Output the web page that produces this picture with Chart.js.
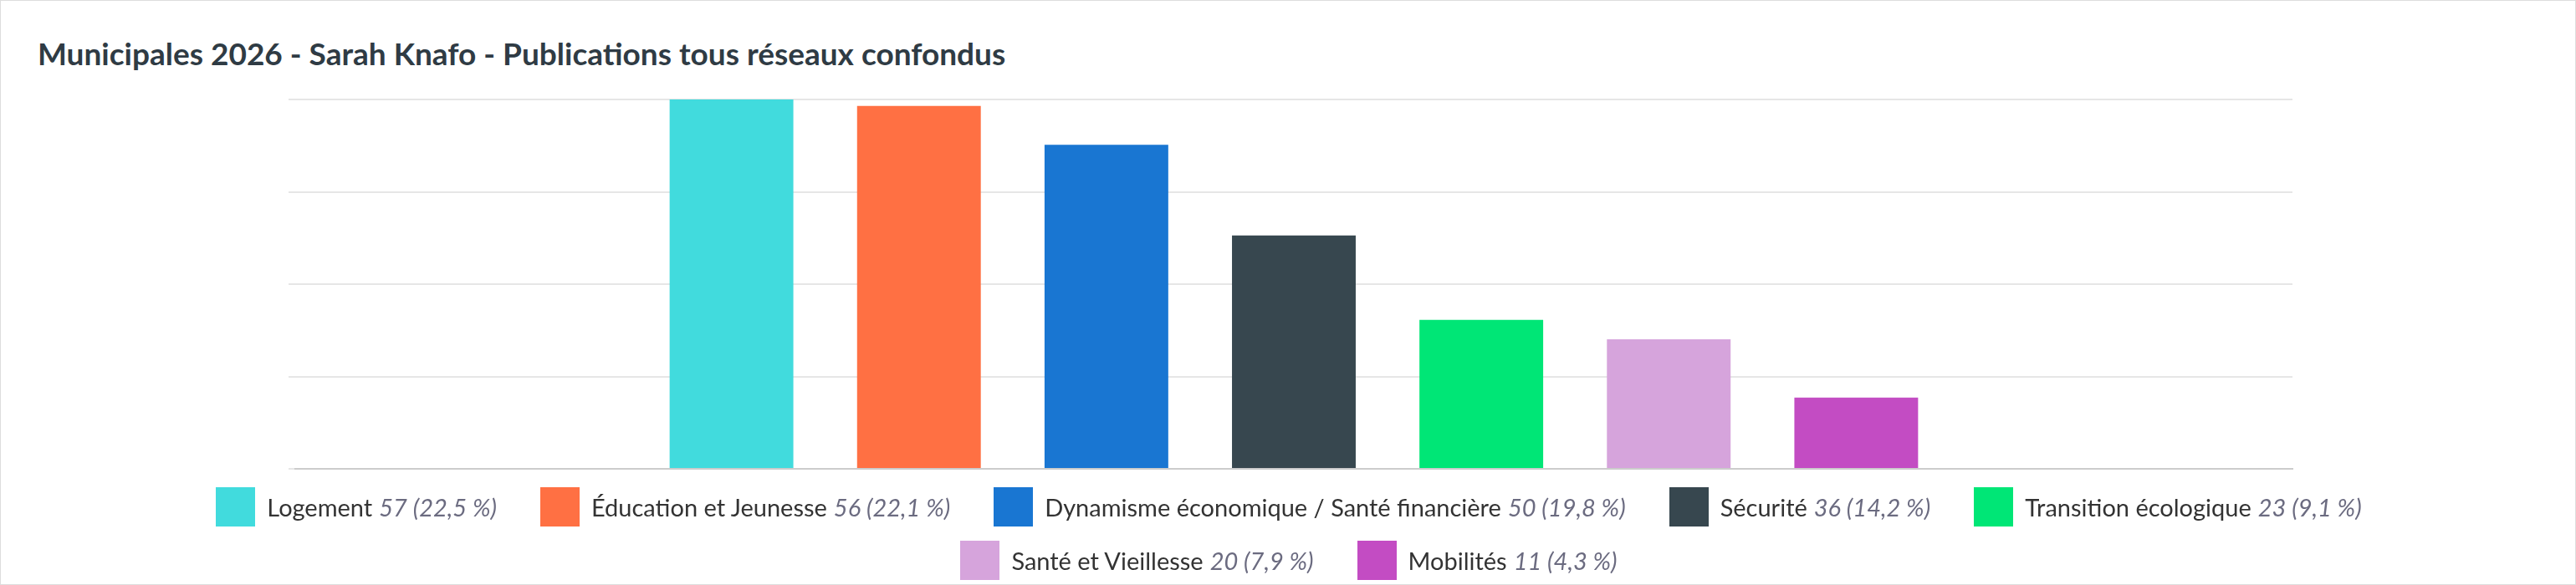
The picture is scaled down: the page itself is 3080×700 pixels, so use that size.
<!DOCTYPE html>
<html><head><meta charset="utf-8">
<script src="https://cdn.jsdelivr.net/npm/chart.js@4/dist/chart.umd.min.js"></script>
<style>
body{margin:0;background:#fff;font-family:Lato,sans-serif}
#wrap{position:relative;width:3078px;height:698px;border:1px solid #ddd;overflow:hidden}
#title{position:absolute;left:44px;top:40px;font-size:37px;font-weight:bold;color:#2f3b44}
#c{position:absolute;left:0;top:0}
#legend{position:absolute;left:90px;top:582px;width:2900px;display:flex;flex-wrap:wrap;justify-content:center;row-gap:18px;column-gap:52px;font-size:29px;color:#333}
.it{display:flex;align-items:center;height:46px}
.sw{width:47px;height:47px;margin-right:14px}
.v{color:#6b6b80;font-style:italic;margin-left:8px}
</style></head><body>
<div id="wrap">
<div id="title">Municipales 2026 - Sarah Knafo - Publications tous réseaux confondus</div>
<canvas id="c" width="3078" height="698"></canvas>
<div id="legend"></div>
</div>
<script>
const themes = ['Logement', 'Éducation et Jeunesse', 'Dynamisme économique / Santé financière', 'Sécurité', 'Transition écologique', 'Santé et Vieillesse', 'Mobilités'];
const counts = [57, 56, 50, 36, 23, 20, 11];
const shares = ['22,5', '22,1', '19,8', '14,2', '9,1', '7,9', '4,3'];
const colors = ['#41dbdd', '#ff7043', '#1976d2', '#37474f', '#00e676', '#d6a4dc', '#c34cc3'];

new Chart(document.getElementById('c'), {
    type: 'bar',
    data: {
        labels: [''],
        datasets: themes.map((t, i) => ({
            label: t,
            data: [counts[i]],
            backgroundColor: colors[i],
            barPercentage: 0.66,
            categoryPercentage: 0.657
        }))
    },
    options: {
        responsive: false,
        animation: false,
        layout: { padding: { left: 344, right: 338, top: 118, bottom: 130 } },
        plugins: { legend: { display: false }, tooltip: { enabled: false } },
        scales: {
            x: { ticks: { display: false }, grid: { display: false }, border: { color: '#ccc', width: 2 } },
            y: {
                min: 0, max: 57,
                ticks: { display: false, stepSize: 14.25 },
                grid: { color: '#e6e6e6', lineWidth: 2 },
                border: { display: false }
            }
        }
    }
});

const legend = document.getElementById('legend');
themes.forEach((t, i) => {
    const d = document.createElement('div');
    d.className = 'it';
    d.innerHTML = `<span class="sw" style="background:${colors[i]}"></span>${t}<span class="v">${counts[i]} (${shares[i]} %)</span>`;
    legend.appendChild(d);
});
</script>
</body></html>
